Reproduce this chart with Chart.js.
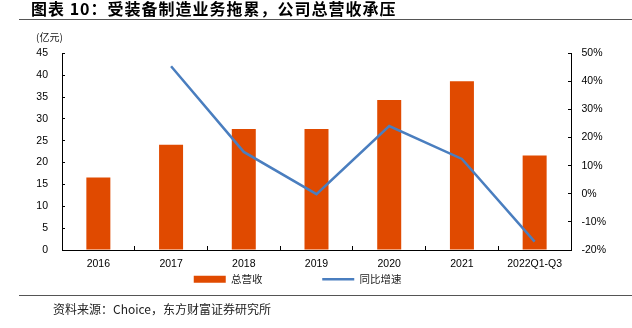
<!DOCTYPE html>
<html lang="zh">
  <head>
    <meta charset="UTF-8" />
    <title>总营收与同比增速</title>
    <script src="https://cdn.jsdelivr.net/npm/chart.js@4.4.1/dist/chart.umd.min.js"></script>
    <style>
      body { margin: 0; background: #fff; }
      #page { position: relative; width: 632px; height: 328px; overflow: hidden; font-family: 'Noto Sans CJK SC', sans-serif; }
      #title { position: absolute; left: 31px; top: 0px; font-size: 16px; line-height: 17px; font-weight: bold; letter-spacing: 1px; color: #000; white-space: nowrap; }
      .rule { position: absolute; left: 19px; right: 0; height: 0; border-top: 1.5px solid #555; }
      #unit { position: absolute; left: 36px; top: 31px; font-size: 10px; line-height: 12px; color: #222; }
      #source { position: absolute; left: 53px; top: 302px; font-size: 12px; line-height: 14px; color: #222; white-space: nowrap; }
      #chart-box { position: absolute; left: 0; top: 0; width: 632px; height: 328px; }
    </style>
  </head>
  <body>
    <div id="page">
      <div id="chart-box"><canvas id="revenue-chart" width="632" height="328"></canvas></div>
      <div id="title">图表 10：受装备制造业务拖累，公司总营收承压</div>
      <div class="rule" style="top: 18.5px"></div>
      <div id="unit">(亿元)</div>
      <div class="rule" style="top: 295px"></div>
      <div id="source">资料来源：Choice，东方财富证券研究所</div>
    </div>
    <script>
      const years = ['2016', '2017', '2018', '2019', '2020', '2021', '2022Q1-Q3'];
      const revenue = [16.6, 24.1, 27.7, 27.7, 34.3, 38.6, 21.6];
      const growth = [null, 45.4, 14.9, -0.1, 24.1, 12.4, -17.0];
      const seriesNames = ['总营收', '同比增速'];
      // trailing spaces push the legend entries to where the original sits
      const legendText = [
        '总营收\u3000\u3000\u3000\u3000\u3000\u2002',
        '同比增速\u3000\u3000\u3000\u2002'
      ];

      const barColor = '#E04A00';
      const lineColor = '#4A7EBF';
      const tickFont = { family: "'Liberation Sans', Arial, sans-serif", size: 10.5 };

      const ctx = document.getElementById('revenue-chart').getContext('2d');

      new Chart(ctx, {
        data: {
          labels: years,
          datasets: [
            {
              type: 'bar',
              label: seriesNames[0],
              data: revenue,
              backgroundColor: barColor,
              borderWidth: 0,
              yAxisID: 'y',
              order: 1,
              barPercentage: 0.33,
              categoryPercentage: 1
            },
            {
              type: 'line',
              label: seriesNames[1],
              data: growth,
              borderColor: lineColor,
              backgroundColor: lineColor,
              borderWidth: 2.5,
              pointRadius: 0,
              tension: 0,
              yAxisID: 'y1',
              order: 0
            }
          ]
        },
        options: {
          responsive: false,
          animation: false,
          devicePixelRatio: 1,
          layout: {
            padding: { top: 53.3, left: 0, right: 0, bottom: 33.5 }
          },
          plugins: {
            tooltip: { enabled: false },
            legend: {
              position: 'bottom',
              labels: {
                usePointStyle: true,
                pointStyleWidth: 32,
                boxHeight: 7,
                padding: 2,
                color: '#222',
                font: { family: "'Noto Sans CJK SC', sans-serif", size: 10.5 },
                sort: (a, b) => a.datasetIndex - b.datasetIndex,
                generateLabels: (chart) => {
                  const items = Chart.defaults.plugins.legend.labels.generateLabels(chart);
                  items.forEach((item) => {
                    item.text = legendText[item.datasetIndex];
                    item.pointStyle = item.datasetIndex === 0 ? 'rect' : 'line';
                  });
                  return items;
                }
              }
            }
          },
          scales: {
            x: {
              offset: true,
              grid: { display: true, drawOnChartArea: false, tickLength: -4, color: '#000', offset: true },
              border: { color: '#000' },
              ticks: { color: '#000', font: tickFont, padding: 12, maxRotation: 0, autoSkip: false },
              afterFit: (scale) => { scale.height = 22; }
            },
            y: {
              position: 'left',
              min: 0,
              max: 45,
              grid: { drawOnChartArea: false, tickLength: -3, color: '#000' },
              border: { color: '#000' },
              ticks: { stepSize: 5, color: '#000', font: tickFont, padding: 17 },
              afterFit: (scale) => { scale.width = 62; }
            },
            y1: {
              position: 'right',
              min: -20,
              max: 50,
              grid: { drawOnChartArea: false, tickLength: -3, color: '#000' },
              border: { color: '#000' },
              ticks: {
                stepSize: 10,
                color: '#000',
                font: tickFont,
                padding: 13.5,
                callback: (value) => value + '%'
              },
              afterFit: (scale) => { scale.width = 61; }
            }
          }
        }
      });
    </script>
  </body>
</html>
